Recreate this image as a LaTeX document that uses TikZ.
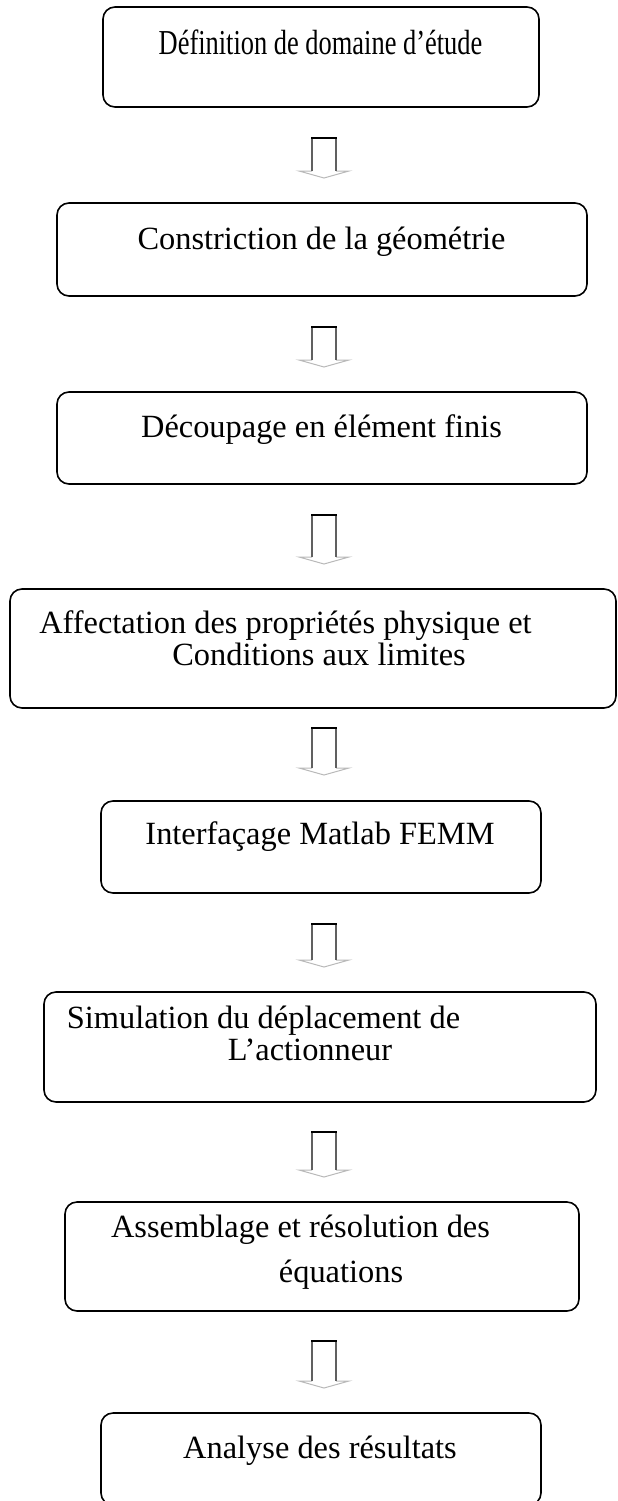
\documentclass[tikz,border=0pt]{standalone}
\usepackage{fontspec}
\setmainfont{Liberation Serif}
\tikzset{
  stepbox/.style={draw=black, line width=1.6pt, rounded corners=12pt, rectangle, inner sep=0pt},
  lbl/.style={anchor=base, inner sep=0pt, font=\fontsize{32.4}{38}\selectfont},
  arrowhead/.style={fill=white, draw=gray!55, line width=1pt, line join=miter},
  arrowside/.style={draw=gray!75!black, line width=1.8pt},
  arrowtop/.style={draw=black, line width=1.2pt},
}
\newcommand\blockarr[3]{%
  \pgfmathsetmacro\hb{#3-7}%
  \coordinate (#1t) at (324,#2);
  \coordinate (#1h) at (324,#3);
  \fill[white] (312,#2) -- (312,\hb) -- (336,\hb) -- (336,#2) -- cycle;
  \path[arrowhead] (312,\hb) -- (299,\hb) -- (#1h) -- (349,\hb) -- (336,\hb);
  \draw[arrowside] (312,#2) -- (312,\hb);
  \draw[arrowside] (336,#2) -- (336,\hb);
  \draw[arrowtop] (311,#2) -- (337,#2);
}
\begin{document}
\begin{tikzpicture}[x=1pt,y=-1pt]
\useasboundingbox (0,0) rectangle (618,1501);
\clip (0,0) rectangle (618,1501);

% boxes
\node[stepbox, minimum width=436pt, minimum height=100pt] (b1) at (321,57) {};
\node[stepbox, minimum width=530pt, minimum height=93pt] (b2) at (322,249.5) {};
\node[stepbox, minimum width=530pt, minimum height=92pt] (b3) at (322,438) {};
\node[stepbox, minimum width=606pt, minimum height=119pt] (b4) at (313,648.5) {};
\node[stepbox, minimum width=440pt, minimum height=92pt] (b5) at (321,847) {};
\node[stepbox, minimum width=552pt, minimum height=110pt] (b6) at (320,1047) {};
\node[stepbox, minimum width=514pt, minimum height=109pt] (b7) at (322,1256.5) {};
\node[stepbox, minimum width=440pt, minimum height=92pt] (b8) at (321,1459) {};

% texts
\node[lbl, font=\fontsize{35}{40}\selectfont] (t1) at (320.5,55) {\scalebox{0.755}[1]{Définition de domaine d’étude}};
\node[lbl] (t2) at (321.5,249) {Constriction de la géométrie};
\node[lbl] (t3) at (321.5,437) {Découpage en élément finis};
\node[lbl] (t4a) at (285.5,633) {Affectation des propriétés physique et};
\node[lbl] (t4b) at (319,665) {Conditions aux limites};
\node[lbl] (t5) at (320,844) {Interfaçage Matlab FEMM};
\node[lbl] (t6a) at (263.5,1028) {Simulation du déplacement de};
\node[lbl] (t6b) at (310,1060) {L’actionneur};
\node[lbl] (t7a) at (300.5,1237) {Assemblage et résolution des};
\node[lbl] (t7b) at (341,1282) {équations};
\node[lbl] (t8) at (320,1458) {Analyse des résultats};

% block arrows
\blockarr{a1}{138}{178}
\blockarr{a2}{327}{367}
\blockarr{a3}{515}{564}
\blockarr{a4}{728}{775}
\blockarr{a5}{924}{967}
\blockarr{a6}{1132}{1177}
\blockarr{a7}{1341}{1388}
\end{tikzpicture}
\end{document}
